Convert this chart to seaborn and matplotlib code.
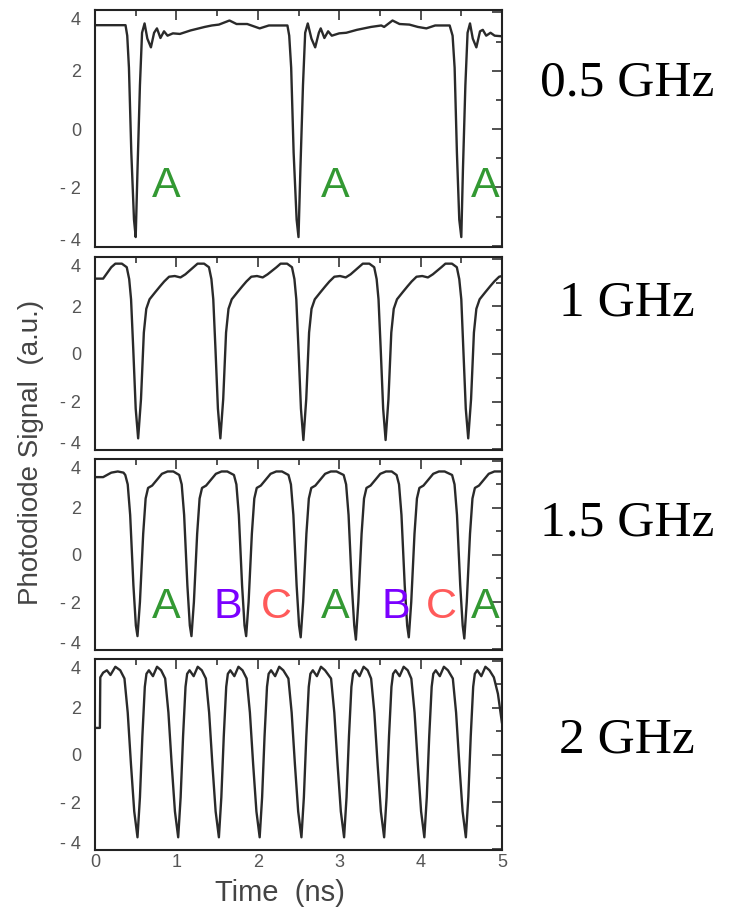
import matplotlib
matplotlib.use("Agg")
import matplotlib.pyplot as plt
import seaborn as sns
from matplotlib.ticker import MultipleLocator

# ---------------- data ----------------
freq_labels = ["0.5 GHz", "1 GHz", "1.5 GHz", "2 GHz"]

t_05 = [0, 0.375, 0.396, 0.417, 0.446, 0.479, 0.5, 0.522, 0.552, 0.578,
        0.609, 0.643, 0.687, 0.726, 0.761, 0.804, 0.848, 0.891, 0.957, 1.043,
        1.174, 1.348, 1.435, 1.522, 1.652, 1.739, 1.87, 2.023, 2.136, 2.364,
        2.386, 2.41, 2.44, 2.477, 2.5, 2.523, 2.555, 2.582, 2.614, 2.659,
        2.705, 2.75, 2.773, 2.818, 2.864, 2.909, 3.0, 3.087, 3.217, 3.391,
        3.517, 3.552, 3.655, 3.741, 3.862, 3.966, 4.071, 4.179, 4.357, 4.393,
        4.418, 4.446, 4.475, 4.5, 4.52, 4.55, 4.577, 4.607, 4.641, 4.685,
        4.73, 4.764, 4.806, 4.859, 4.91, 5.0]
y_05 = [3.56, 3.56, 3.2, 2.1, -0.8, -3.1, -3.7, -1.4, 1.5, 3.3,
        3.62, 3.1, 2.8, 3.3, 3.45, 3.12, 3.35, 3.2, 3.28, 3.26,
        3.38, 3.5, 3.55, 3.58, 3.72, 3.6, 3.6, 3.45, 3.55, 3.55,
        3.2, 2.1, -0.8, -3.1, -3.7, -1.4, 1.5, 3.3, 3.62, 3.1,
        2.8, 3.3, 3.45, 3.12, 3.35, 3.2, 3.28, 3.3, 3.4, 3.5,
        3.55, 3.5, 3.72, 3.6, 3.58, 3.5, 3.45, 3.55, 3.55, 3.2,
        2.1, -0.8, -3.1, -3.7, -1.4, 1.5, 3.3, 3.62, 3.1, 2.8,
        3.35, 3.4, 3.2, 3.3, 3.2, 3.18]

t_1 = [0, 0.1, 0.2, 0.25, 0.33, 0.39, 0.42, 0.443, 0.47, 0.5, 0.53, 0.565, 0.6, 0.63, 0.67, 0.74, 0.8, 0.85, 0.91, 0.98, 1.05, 1.11,
       1.21, 1.26, 1.34, 1.40, 1.43, 1.453, 1.48, 1.51, 1.54, 1.575, 1.61, 1.64, 1.68, 1.75, 1.81, 1.86, 1.92, 1.99, 2.06, 2.12,
       2.23, 2.28, 2.36, 2.42, 2.45, 2.473, 2.5, 2.53, 2.56, 2.595, 2.63, 2.66, 2.70, 2.77, 2.83, 2.88, 2.94, 3.01, 3.08, 3.14,
       3.24, 3.29, 3.37, 3.43, 3.46, 3.483, 3.51, 3.54, 3.57, 3.605, 3.64, 3.67, 3.71, 3.78, 3.84, 3.89, 3.95, 4.02, 4.09, 4.15,
       4.255, 4.305, 4.385, 4.445, 4.475, 4.5, 4.525, 4.555, 4.585, 4.62, 4.655, 4.685, 4.725, 4.795, 4.855, 4.905, 4.965, 5.0]
y_1 = [3.17, 3.17, 3.65, 3.8, 3.8, 3.65, 3.15, 2.3, 0.2, -2.3, -3.55, -1.9, 0.9, 1.9, 2.3, 2.6, 2.85, 3.05, 3.25, 3.28, 3.22, 3.35,
       3.65, 3.8, 3.8, 3.65, 3.15, 2.3, 0.2, -2.3, -3.55, -1.9, 0.9, 1.9, 2.3, 2.6, 2.85, 3.05, 3.25, 3.28, 3.22, 3.35,
       3.65, 3.8, 3.8, 3.65, 3.15, 2.3, 0.2, -2.3, -3.62, -1.9, 0.9, 1.9, 2.3, 2.6, 2.85, 3.05, 3.25, 3.28, 3.22, 3.35,
       3.65, 3.8, 3.8, 3.65, 3.15, 2.3, 0.2, -2.3, -3.62, -1.9, 0.9, 1.9, 2.3, 2.6, 2.85, 3.05, 3.25, 3.28, 3.22, 3.35,
       3.65, 3.8, 3.8, 3.65, 3.15, 2.3, 0.2, -2.3, -3.55, -1.9, 0.9, 1.9, 2.3, 2.6, 2.85, 3.05, 3.25, 3.28]

t_15 = [0, 0.1, 0.2, 0.28, 0.35,
        0.372, 0.402, 0.432, 0.472, 0.502, 0.522, 0.552, 0.592, 0.622, 0.652, 0.702, 0.762, 0.822, 0.892, 0.962,
        1.035, 1.065, 1.095, 1.135, 1.165, 1.185, 1.215, 1.255, 1.285, 1.315, 1.365, 1.425, 1.485, 1.555, 1.625,
        1.707, 1.737, 1.767, 1.807, 1.837, 1.857, 1.887, 1.927, 1.957, 1.987, 2.037, 2.097, 2.157, 2.227, 2.297,
        2.377, 2.407, 2.437, 2.477, 2.507, 2.527, 2.557, 2.597, 2.627, 2.657, 2.707, 2.767, 2.827, 2.897, 2.967,
        3.055, 3.085, 3.115, 3.155, 3.185, 3.205, 3.235, 3.275, 3.305, 3.335, 3.385, 3.445, 3.505, 3.575, 3.645,
        3.705, 3.735, 3.765, 3.805, 3.835, 3.855, 3.885, 3.925, 3.955, 3.985, 4.035, 4.095, 4.155, 4.225, 4.295,
        4.387, 4.417, 4.447, 4.487, 4.517, 4.537, 4.567, 4.607, 4.637, 4.667, 4.717, 4.777, 4.837, 4.907, 5.0]
y_15 = [3.31, 3.31, 3.5, 3.55, 3.5,
        3.4, 3.0, 1.7, -1.3, -3.0, -3.45, -2.0, 0.9, 2.4, 2.85, 2.95, 3.2, 3.45, 3.55, 3.55,
        3.4, 3.0, 1.7, -1.3, -3.0, -3.45, -2.0, 0.9, 2.4, 2.85, 2.95, 3.2, 3.45, 3.55, 3.55,
        3.4, 3.0, 1.7, -1.3, -3.0, -3.45, -2.0, 0.9, 2.4, 2.85, 2.95, 3.2, 3.45, 3.55, 3.55,
        3.4, 3.0, 1.7, -1.3, -3.0, -3.5, -2.0, 0.9, 2.4, 2.85, 2.95, 3.2, 3.45, 3.55, 3.55,
        3.4, 3.0, 1.7, -1.3, -3.0, -3.6, -2.0, 0.9, 2.4, 2.85, 2.95, 3.2, 3.45, 3.55, 3.55,
        3.4, 3.0, 1.7, -1.3, -3.0, -3.5, -2.0, 0.9, 2.4, 2.85, 2.95, 3.2, 3.45, 3.55, 3.55,
        3.4, 3.0, 1.7, -1.3, -3.0, -3.55, -2.0, 0.9, 2.4, 2.85, 2.95, 3.2, 3.45, 3.55, 3.55]

t_2 = [0, 0.06, 0.065, 0.1, 0.146, 0.19, 0.25, 0.31,
       0.362, 0.402, 0.442, 0.482, 0.522, 0.552, 0.582, 0.612, 0.632, 0.662, 0.712, 0.762, 0.812,
       0.862, 0.902, 0.942, 0.982, 1.022, 1.052, 1.082, 1.112, 1.132, 1.162, 1.212, 1.262, 1.312,
       1.362, 1.402, 1.442, 1.482, 1.522, 1.552, 1.582, 1.612, 1.632, 1.662, 1.712, 1.762, 1.812,
       1.863, 1.903, 1.943, 1.983, 2.023, 2.053, 2.083, 2.113, 2.133, 2.163, 2.213, 2.263, 2.313,
       2.376, 2.416, 2.456, 2.496, 2.536, 2.566, 2.596, 2.626, 2.646, 2.676, 2.726, 2.776, 2.826,
       2.9, 2.94, 2.98, 3.02, 3.06, 3.09, 3.12, 3.15, 3.17, 3.2, 3.25, 3.3, 3.35,
       3.392, 3.432, 3.472, 3.512, 3.552, 3.582, 3.612, 3.642, 3.662, 3.692, 3.742, 3.792, 3.842,
       3.886, 3.926, 3.966, 4.006, 4.046, 4.076, 4.106, 4.136, 4.156, 4.186, 4.236, 4.286, 4.336,
       4.396, 4.436, 4.476, 4.516, 4.556, 4.586, 4.616, 4.646, 4.666, 4.696, 4.746, 4.796, 4.846,
       4.9, 4.95, 5.0]
y_2 = [1.15, 1.15, 3.3, 3.5, 3.6, 3.4, 3.75, 3.6,
       3.25, 1.8, -0.4, -2.4, -3.5, -1.8, 0.8, 2.9, 3.45, 3.6, 3.35, 3.75, 3.6,
       3.25, 1.8, -0.4, -2.4, -3.5, -1.8, 0.8, 2.9, 3.45, 3.6, 3.35, 3.75, 3.6,
       3.25, 1.8, -0.4, -2.4, -3.5, -1.8, 0.8, 2.9, 3.45, 3.6, 3.35, 3.75, 3.6,
       3.25, 1.8, -0.4, -2.4, -3.5, -1.8, 0.8, 2.9, 3.45, 3.6, 3.35, 3.75, 3.6,
       3.25, 1.8, -0.4, -2.4, -3.5, -1.8, 0.8, 2.9, 3.45, 3.6, 3.35, 3.75, 3.6,
       3.25, 1.8, -0.4, -2.4, -3.5, -1.8, 0.8, 2.9, 3.45, 3.6, 3.35, 3.75, 3.6,
       3.25, 1.8, -0.4, -2.4, -3.5, -1.8, 0.8, 2.9, 3.45, 3.6, 3.35, 3.75, 3.6,
       3.25, 1.8, -0.4, -2.4, -3.5, -1.8, 0.8, 2.9, 3.45, 3.6, 3.35, 3.75, 3.6,
       3.25, 1.8, -0.4, -2.4, -3.5, -1.8, 0.8, 2.9, 3.45, 3.6, 3.35, 3.75, 3.6,
       3.3, 2.6, 1.35]

# letter annotations (panel 1 and panel 3)
p1_letters = ["A", "A", "A"]
p1_x = [0.88, 2.95, 4.8]
p1_y = -2.31
p3_letters = ["A", "B", "C", "A", "B", "C", "A"]
p3_x = [0.88, 1.63, 2.23, 2.95, 3.7, 4.25, 4.8]
p3_y = -2.68
letter_colors = {"A": "#339933", "B": "#7B00FF", "C": "#FF5A5A"}

y_ticks = [-4, -2, 0, 2, 4]
y_ticklabels = ["- 4", "- 2", "0", "2", "4"]
x_ticks = [0, 1, 2, 3, 4, 5]

# ---------------- figure ----------------
sns.set_theme(style="white")
plt.rcParams['font.family'] = ['Liberation Sans', 'DejaVu Sans']

W, H = 738, 913
fig = plt.figure(figsize=(W / 100, H / 100), dpi=100)

# panel pixel boxes: (top, bottom)
boxes = [(10, 247), (257, 450), (459, 650), (659, 850)]
left_px, right_px = 95, 502
series = [(t_05, y_05), (t_1, y_1), (t_15, y_15), (t_2, y_2)]
label_baselines = [95, 315, 535, 752]

axes = []
for i, ((top, bot), (tt, yy)) in enumerate(zip(boxes, series)):
    ax = fig.add_axes([left_px / W, 1 - bot / H, (right_px - left_px) / W, (bot - top) / H])
    sns.lineplot(x=tt, y=yy, ax=ax, color="#2a2a2a", linewidth=1.7,
                 estimator=None, sort=False)
    ax.set_xlim(0, 5)
    ax.set_ylim(-4.04, 4.08)
    ax.set_yticks(y_ticks)
    ax.set_yticklabels(y_ticklabels)
    ax.yaxis.set_minor_locator(MultipleLocator(1))
    ax.set_xticks(x_ticks)
    ax.xaxis.set_minor_locator(MultipleLocator(0.5))
    ax.tick_params(which="both", direction="in", top=True, right=True,
                   color="#222222", width=1.1)
    ax.tick_params(which="major", length=7, labelsize=13, labelcolor="#555555", pad=10)
    ax.tick_params(which="minor", length=4)
    ax.tick_params(axis="x", pad=3)
    if i < 3:
        ax.tick_params(axis="x", labelbottom=False)
    ylabs = ax.get_yticklabels()
    ylabs[0].set_va("baseline")
    ylabs[-1].set_va("top")
    for sp in ax.spines.values():
        sp.set_linewidth(1.5)
        sp.set_color("#222222")
    ax.set_xlabel("")
    ax.set_ylabel("")
    fig.text(627 / W, 1 - label_baselines[i] / H, freq_labels[i],
             family=["Liberation Serif", "DejaVu Serif"], fontsize=37,
             ha="center", va="baseline", color="black")
    axes.append(ax)

for lx, lt in zip(p1_x, p1_letters):
    axes[0].text(lx, p1_y, lt, color=letter_colors[lt], fontsize=31,
                 ha="center", va="baseline")
for lx, lt in zip(p3_x, p3_letters):
    axes[2].text(lx, p3_y, lt, color=letter_colors[lt], fontsize=31,
                 ha="center", va="baseline")

fig.text(31 / W, 1 - 452 / H, "Photodiode Signal  (a.u.)", rotation=90,
         ha="center", va="center", fontsize=20, color="#444444")
fig.text(280 / W, 1 - 893 / H, "Time  (ns)", ha="center", va="center",
         fontsize=21, color="#444444")

fig.savefig("out.png", dpi=100)
